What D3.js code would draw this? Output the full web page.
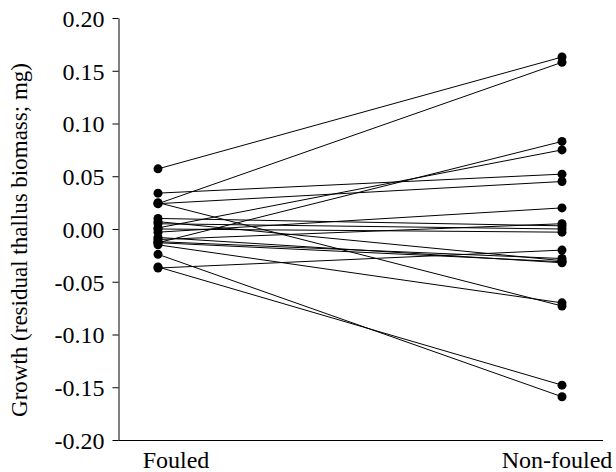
<!DOCTYPE html>
<html>
<head>
<meta charset="utf-8">
<script src="https://cdn.jsdelivr.net/npm/d3@7"></script>
<style>
  body { margin: 0; background: #fff; }
</style>
</head>
<body>
<div id="chart"></div>
<script>
const groups = ["Fouled", "Non-fouled"];
const yTicks = [-0.20, -0.15, -0.10, -0.05, 0.00, 0.05, 0.10, 0.15, 0.20];

// paired values, one entry per sample
const fouled = [0.057, 0.024, 0.034, 0.024, 0.025, -0.013, 0.001, -0.003, -0.024, -0.036,
  -0.037, -0.015, 0.010, 0.007, 0.005, 0.000, -0.008, -0.010, -0.012, -0.013];
const nonFouled = [0.163, 0.158, 0.052, 0.045, -0.073, 0.083, 0.075, 0.020, -0.159, -0.148,
  -0.020, -0.070, 0.003, -0.030, 0.000, -0.003, -0.032, 0.005, -0.028, -0.031];

const width = 616;
const height = 472;
const serif = "'Liberation Serif', 'Times New Roman', Times, serif";

const svg = d3.select("#chart")
  .append("svg")
  .attr("width", width)
  .attr("height", height)
  .style("font-family", serif);

const x = d3.scalePoint()
  .domain(groups)
  .range([158, 562]);

const y = d3.scaleLinear()
  .domain([-0.2, 0.2])
  .range([440, 18]);

const fmt = (d) => d3.format(".2f")(d).replace("\u2212", "-");

// y axis
const yAxis = svg.append("g")
  .attr("transform", "translate(118.5,0)")
  .call(d3.axisLeft(y).tickValues(yTicks).tickFormat(fmt).tickSize(6).tickPadding(8).tickSizeOuter(0));
yAxis.attr("font-family", null).attr("font-size", null);
yAxis.selectAll("text")
  .style("font-family", serif)
  .style("font-size", "24px")
  .attr("fill", "#000")
  .attr("dy", "0.35em");
yAxis.selectAll("line, path").attr("stroke", "#000");

// x axis (line only)
svg.append("line")
  .attr("x1", 118.5)
  .attr("x2", 603)
  .attr("y1", y(-0.2) + 0.5)
  .attr("y2", y(-0.2) + 0.5)
  .attr("stroke", "#000");

// category labels
const labelShift = { "Fouled": 18, "Non-fouled": -5 };
svg.selectAll("text.cat")
  .data(groups)
  .enter()
  .append("text")
  .attr("class", "cat")
  .attr("x", (d) => x(d) + labelShift[d])
  .attr("y", 468)
  .attr("text-anchor", "middle")
  .style("font-family", serif)
  .style("font-size", "24px")
  .text((d) => d);

// y title
svg.append("text")
  .attr("transform", `translate(27,240) rotate(-90)`)
  .attr("text-anchor", "middle")
  .style("font-family", serif)
  .style("font-size", "23px")
  .text("Growth (residual thallus biomass; mg)");

const pairs = fouled.map((v, i) => ({ a: v, b: nonFouled[i] }));

svg.selectAll("line.pair")
  .data(pairs)
  .enter()
  .append("line")
  .attr("class", "pair")
  .attr("x1", x("Fouled"))
  .attr("x2", x("Non-fouled"))
  .attr("y1", (d) => y(d.a))
  .attr("y2", (d) => y(d.b))
  .attr("stroke", "#000")
  .attr("stroke-width", 1);

svg.selectAll("circle.f")
  .data(fouled)
  .enter()
  .append("circle")
  .attr("class", "f")
  .attr("cx", x("Fouled"))
  .attr("cy", (d) => y(d))
  .attr("r", 4.5)
  .attr("fill", "#000");

svg.selectAll("circle.n")
  .data(nonFouled)
  .enter()
  .append("circle")
  .attr("class", "n")
  .attr("cx", x("Non-fouled"))
  .attr("cy", (d) => y(d))
  .attr("r", 4.5)
  .attr("fill", "#000");
</script>
</body>
</html>
